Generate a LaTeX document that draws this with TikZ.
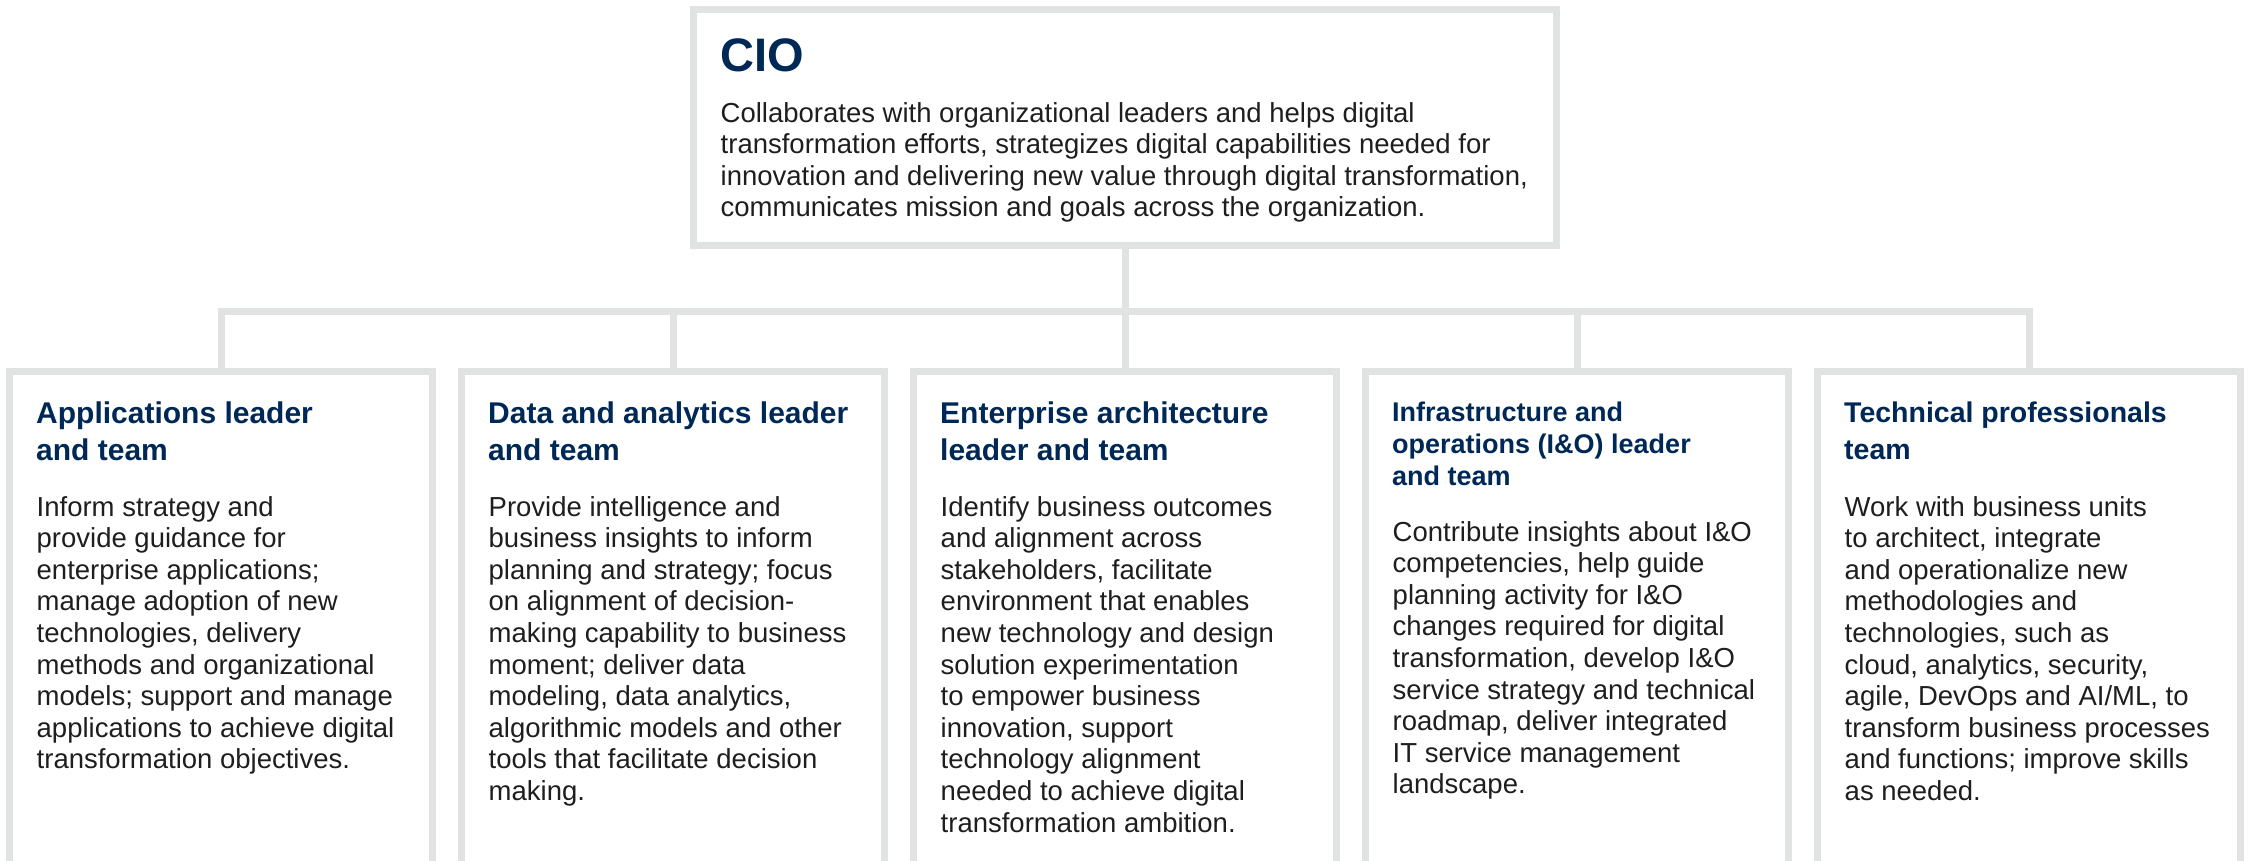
\documentclass[tikz,border=0pt]{standalone}
\usepackage{fontspec}
\setmainfont{Liberation Sans}
\usetikzlibrary{positioning}
\definecolor{rulegray}{HTML}{E1E3E2}
\definecolor{navy}{HTML}{002856}
\definecolor{ink}{HTML}{1E1E1E}
\tikzset{
rolebox/.style={
	  draw=rulegray, line width=7pt, inner sep=0pt, outer sep=0pt,
	    anchor=north west, minimum width=423pt, minimum height=560pt},
ciobox/.style={
	  draw=rulegray, line width=7pt, inner sep=0pt, outer sep=0pt,
	    anchor=north west, minimum width=863pt, minimum height=236pt},
link/.style={draw=rulegray, line width=7pt},
head/.style={anchor=north west, inner sep=0pt, align=left, text=navy,
	font=\fontsize{30}{37}\selectfont\bfseries},
smallhead/.style={head, font=\fontsize{27}{32}\selectfont\bfseries},
body/.style={anchor=north west, inner sep=0pt, align=left, text=ink,
	font=\fontsize{27.5}{31.6}\selectfont}
}

\begin{document}
\begin{tikzpicture}[x=1pt, y=-1pt]
	\useasboundingbox (0,0) rectangle (2249,861);
	\clip (0,0) rectangle (2249,861);
	% boxes
	\node[ciobox] (cio) at (693.5,9.5) {};
	\node[rolebox] (apps) at (9.5,371.5) {};
	\node[rolebox] (data) at (461.5,371.5) {};
	\node[rolebox] (ea) at (913.5,371.5) {};
	\node[rolebox] (io) at (1365.5,371.5) {};
	\node[rolebox] (tech) at (1817.5,371.5) {};
	% connectors
	\coordinate (bus) at (0,311);
	\draw[link] (cio.south) -- (ea.north);
	\draw[link] (apps.north) -- (apps.north |- bus) -- (tech.north |- bus) -- (tech.north);
	\foreach \b in {data, io}
		\draw[link] (\b.north |- bus) -- (\b.north);
	% CIO
	\node[anchor=north west, inner sep=0pt, text=navy,
		font=\fontsize{47}{47}\selectfont\bfseries] (cio-title)
		at ([xshift=26.5pt, yshift=-28.5pt]cio.north west) {CIO};
	\node[body] (cio-text) at ([xshift=27pt, yshift=-92.5pt]cio.north west)
		{Collaborates with organizational leaders and helps digital\\
		transformation efforts, strategizes digital capabilities needed for\\
		innovation and delivering new value through digital transformation,\\
		communicates mission and goals across the organization.};
	% teams
	\node[head] (apps-title) at ([xshift=26.5pt, yshift=-30pt]apps.north west)
		{Applications leader\\ and team};
	\node[body] (apps-text) at ([xshift=27pt, yshift=-124.5pt]apps.north west)
		{Inform strategy and\\ provide guidance for\\ enterprise applications;\\
		manage adoption of new\\ technologies, delivery\\ methods and organizational\\
		models; support and manage\\ applications to achieve digital\\
		transformation objectives.};
	\node[head] (data-title) at ([xshift=26.5pt, yshift=-30pt]data.north west)
		{Data and analytics leader\\ and team};
	\node[body] (data-text) at ([xshift=27pt, yshift=-124.5pt]data.north west)
		{Provide intelligence and\\ business insights to inform\\ planning and strategy; focus\\
		on alignment of decision-\\ making capability to business\\ moment; deliver data\\
		modeling, data analytics,\\ algorithmic models and other\\
		tools that facilitate decision\\ making.};
	\node[head] (ea-title) at ([xshift=26.5pt, yshift=-30pt]ea.north west)
		{Enterprise architecture\\ leader and team};
	\node[body] (ea-text) at ([xshift=27pt, yshift=-124.5pt]ea.north west)
		{Identify business outcomes\\ and alignment across\\ stakeholders, facilitate\\
		environment that enables\\ new technology and design\\ solution experimentation\\
		to empower business\\ innovation, support\\ technology alignment\\
		needed to achieve digital\\ transformation ambition.};
	\node[smallhead] (io-title) at ([xshift=26.5pt, yshift=-30pt]io.north west)
		{Infrastructure and\\ operations (I\&O) leader\\ and team};
	\node[body] (io-text) at ([xshift=27pt, yshift=-149.5pt]io.north west)
		{Contribute insights about I\&O\\ competencies, help guide\\ planning activity for I\&O\\
		changes required for digital\\ transformation, develop I\&O\\
		service strategy and technical\\ roadmap, deliver integrated\\
		IT service management\\ landscape.};
	\node[head, font=\fontsize{28.5}{37}\selectfont\bfseries] (tech-title)
		at ([xshift=26.5pt, yshift=-30.5pt]tech.north west)
		{Technical professionals\\ team};
	\node[body] (tech-text) at ([xshift=27pt, yshift=-124.5pt]tech.north west)
		{Work with business units\\ to architect, integrate\\ and operationalize new\\
		methodologies and\\ technologies, such as\\ cloud, analytics, security,\\
		agile, DevOps and AI/ML, to\\ transform business processes\\
		and functions; improve skills\\ as needed.};
\end{tikzpicture}
\end{document}
